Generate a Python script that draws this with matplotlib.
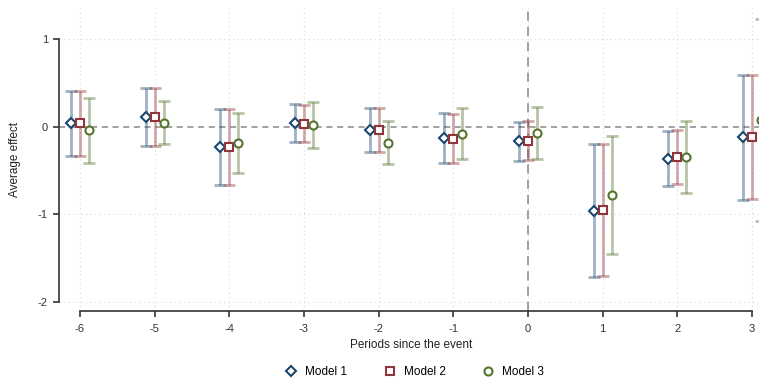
import matplotlib.pyplot as plt
import numpy as np

plt.rcParams["font.family"] = ["Liberation Sans", "DejaVu Sans"]
plt.rcParams["axes.unicode_minus"] = False

periods = [-6, -5, -4, -3, -2, -1, 0, 1, 2, 3]

m1 = [0.039, 0.114, -0.235, 0.039, -0.034, -0.129, -0.167, -0.962, -0.365, -0.121]
m1_hi = [0.41, 0.44, 0.20, 0.26, 0.217, 0.153, 0.057, -0.197, -0.053, 0.587]
m1_lo = [-0.33, -0.217, -0.67, -0.175, -0.285, -0.41, -0.39, -1.72, -0.673, -0.837]

m2 = [0.042, 0.11, -0.235, 0.035, -0.036, -0.137, -0.16, -0.95, -0.35, -0.118]
m2_hi = [0.41, 0.44, 0.20, 0.25, 0.215, 0.145, 0.065, -0.195, -0.038, 0.587]
m2_lo = [-0.33, -0.217, -0.67, -0.175, -0.285, -0.415, -0.385, -1.71, -0.65, -0.83]

m3 = [-0.04, 0.046, -0.19, 0.015, -0.186, -0.08, -0.072, -0.78, -0.35, 0.076]
m3_hi = [0.33, 0.29, 0.156, 0.28, 0.065, 0.21, 0.225, -0.106, 0.061, 1.233]
m3_lo = [-0.42, -0.20, -0.53, -0.24, -0.43, -0.37, -0.37, -1.453, -0.76, -1.08]

models = ["Model 1", "Model 2", "Model 3"]
colors = ["#1a476f", "#90353b", "#55752f"]
markers = ["D", "s", "o"]
msizes = [5.2, 5.5, 5.8]
offsets = [-0.12, 0.0, 0.12]

W, H = 759, 379
fig = plt.figure(figsize=(W / 100, H / 100), dpi=100)
# axes in pixel layout: left 59, right 762.5, top 8, bottom 311
ax = fig.add_axes([59 / W, (H - 311) / H, (762.5 - 59) / W, (311 - 8) / H])
ax.set_xlim(-6.28, 3.14)
ax.set_ylim(-2.104, 1.355)

for x in periods:
    ax.axvline(x, color="#d9d9d9", lw=0.8, ls=(0, (1, 3)), zorder=0)
for y in [1, -1, -2]:
    ax.axhline(y, color="#d9d9d9", lw=0.8, ls=(0, (1, 3)), zorder=0)
ax.axhline(0, color="#888888", lw=1.1, ls=(0, (4, 3)), zorder=1)
ax.axvline(0, color="#888888", lw=1.1, ls=(0, (6, 4)), zorder=1)

data = [(m1, m1_lo, m1_hi), (m2, m2_lo, m2_hi), (m3, m3_lo, m3_hi)]
handles = []
for (est, lo, hi), name, c, mk, ms, off in zip(data, models, colors, markers, msizes, offsets):
    xs = np.array(periods) + off
    est = np.array(est)
    err = [est - np.array(lo), np.array(hi) - est]
    ax.errorbar(xs, est, yerr=err, fmt="none", ecolor=c, alpha=0.42,
                elinewidth=2.0, capsize=4.5, capthick=2.0, zorder=2)
    h, = ax.plot(xs, est, ls="none", marker=mk, ms=ms, mfc="white",
                 mec=c, mew=1.5, zorder=3, label=name)
    handles.append(h)

for s in ["top", "right"]:
    ax.spines[s].set_visible(False)
ax.spines["left"].set_bounds(-2, 1)
ax.spines["bottom"].set_bounds(-6, 3)
ax.spines["left"].set_color("#333333")
ax.spines["bottom"].set_color("#333333")
ax.spines["left"].set_linewidth(1.2)
ax.spines["bottom"].set_linewidth(1.2)

ax.set_xticks(periods)
ax.set_xticklabels([str(p) for p in periods])
ax.set_yticks([1, 0, -1, -2])
ax.set_yticklabels(["1", "0", "-1", "-2"])
ax.tick_params(axis="both", labelsize=8, colors="#333333", length=4, width=1.2, pad=4)
ax.tick_params(axis="x", pad=5)
ax.set_xlabel("Periods since the event", fontsize=8.5, color="#222222", labelpad=4)
ax.set_ylabel("Average effect", fontsize=8.5, color="#222222", labelpad=12)

fig.legend(handles=handles, labels=models, loc="center", ncol=3,
           bbox_to_anchor=(414 / W, 1 - 372 / H), frameon=False, fontsize=8.5,
           handlelength=1.2, handletextpad=0.6, columnspacing=3.0)

fig.savefig("out.png", dpi=100)
